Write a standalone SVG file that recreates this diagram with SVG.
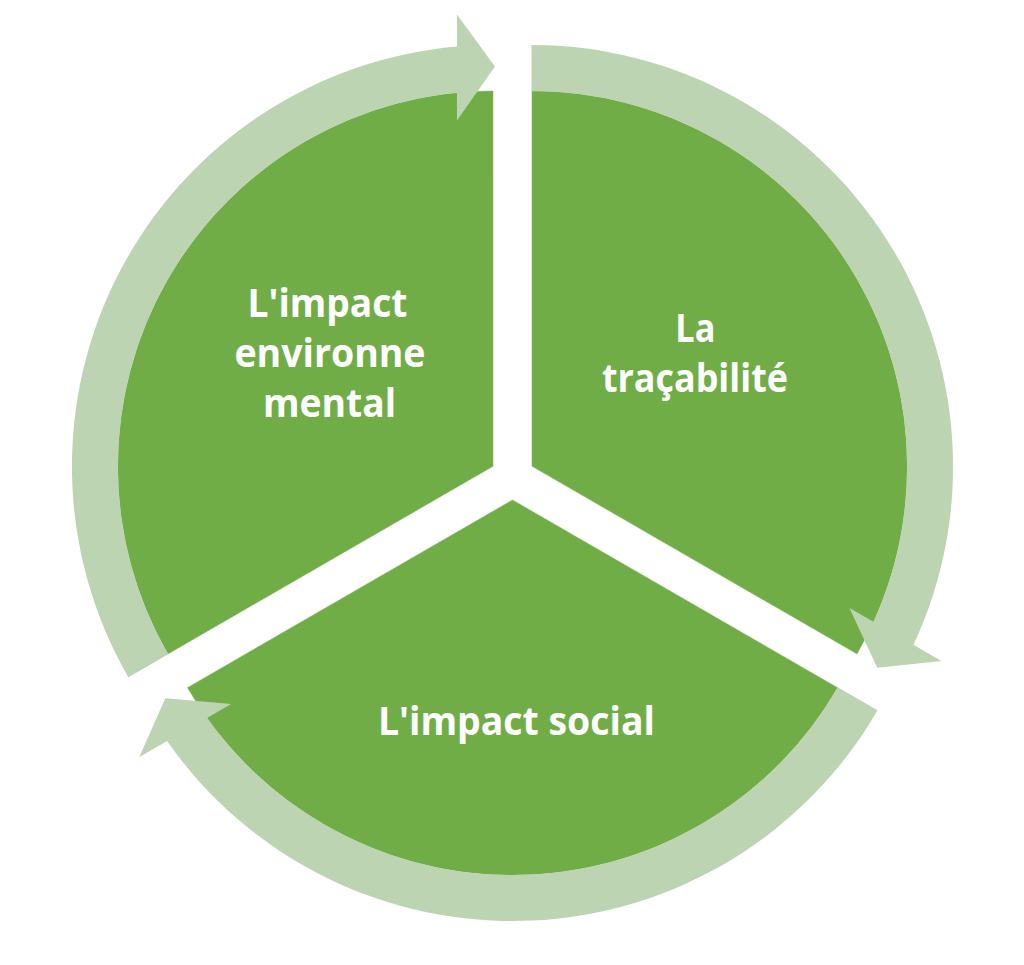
<svg xmlns="http://www.w3.org/2000/svg" xmlns:xlink="http://www.w3.org/1999/xlink" width="1024" height="965" viewBox="0 0 1024 965">
<style>
.seg{fill:#70AD47;stroke:#ffffff;stroke-width:1;stroke-opacity:0.5}
.arr{fill:#BCD4B2}
.lbl{font-family:"Open Sans","Liberation Sans",sans-serif;font-weight:700;font-size:40px;fill:#ffffff;text-anchor:middle}
</style>
<defs>
<path id="wedge" d="M493.45,466.5 L493.45,90.5 A376,376 0 0 0 167.82,654.5 Z"/>
<path id="arrow" d="M128.42,677.25 A421.5,421.5 0 0 1 456.95,46.58 L456.95,14.5 L494.95,66.5 L456.95,120.5 L456.95,92.78 A375.5,375.5 0 0 0 168.26,654.25 Z"/>
</defs>
<rect width="1024" height="965" fill="#ffffff"/>
<g id="node-environnement">
<use href="#wedge" xlink:href="#wedge" class="seg"/>
<text class="lbl" x="327.5" y="317" textLength="160" lengthAdjust="spacingAndGlyphs">L'impact</text>
<text class="lbl" x="330" y="367" textLength="191" lengthAdjust="spacingAndGlyphs">environne</text>
<text class="lbl" x="329.5" y="417" textLength="133" lengthAdjust="spacingAndGlyphs">mental</text>
</g>
<g id="node-tracabilite">
<use href="#wedge" xlink:href="#wedge" class="seg" transform="rotate(120 512.5 477.5)"/>
<text class="lbl" x="695.3" y="341.5" textLength="40" lengthAdjust="spacingAndGlyphs">La</text>
<text class="lbl" x="695" y="392" textLength="186" lengthAdjust="spacingAndGlyphs">traçabilité</text>
</g>
<g id="node-social">
<use href="#wedge" xlink:href="#wedge" class="seg" transform="rotate(240 512.5 477.5)"/>
<text class="lbl" x="516.4" y="735" textLength="277" lengthAdjust="spacingAndGlyphs">L'impact social</text>
</g>
<g id="connectors">
<use href="#arrow" xlink:href="#arrow" class="arr"/>
<use href="#arrow" xlink:href="#arrow" class="arr" transform="rotate(120 512.5 477.5)"/>
<use href="#arrow" xlink:href="#arrow" class="arr" transform="rotate(240 512.5 477.5)"/>
</g>
</svg>
